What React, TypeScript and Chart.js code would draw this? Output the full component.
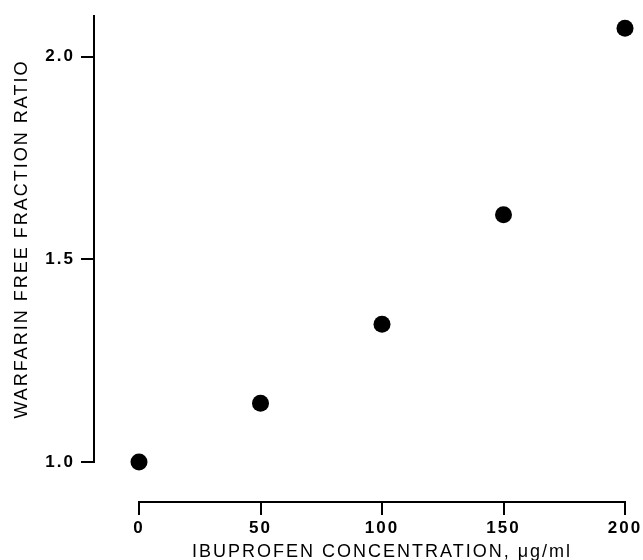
import React, { useEffect, useRef } from "react";
import { Chart, registerables } from "chart.js";

Chart.register(...registerables);

// ---- data ----
const concentrations = [0, 50, 100, 150, 200];
const freeFractionRatios = [1.0, 1.145, 1.34, 1.61, 2.07];
const xTickValues = [0, 50, 100, 150, 200];
const xTickLabels = ["0", "50", "100", "150", "200"];
const yTickValues = [1.0, 1.5, 2.0];
const yTickLabels = ["1.0", "1.5", "2.0"];
const xTitle = "IBUPROFEN CONCENTRATION, \u03bcg/ml";
const yTitle = "WARFARIN FREE FRACTION RATIO";

const FONT = "'Liberation Sans', Arial, Helvetica, sans-serif";
const INK = "#000000";

const spacingPlugin = {
  id: "letterSpacing",
  beforeDraw(chart: any) {
    (chart.ctx as any).letterSpacing = "2px";
  },
};

export default function App() {
  const ref = useRef<HTMLCanvasElement | null>(null);

  useEffect(() => {
    if (!ref.current) return;
    const gapScale = (axis: "x" | "y", size: number) => ({
      type: "linear" as const,
      axis,
      position: axis === "x" ? ("bottom" as const) : ("left" as const),
      weight: 0,
      display: true,
      grid: { display: false },
      border: { display: false },
      ticks: { display: false },
      title: { display: false },
      afterFit: (s: any) => {
        if (axis === "x") s.height = size;
        else s.width = size;
      },
    });

    const chart = new Chart(ref.current, {
      type: "scatter",
      data: {
        datasets: [
          {
            data: concentrations.map((x, i) => ({ x, y: freeFractionRatios[i] })),
            backgroundColor: INK,
            borderColor: INK,
            borderWidth: 0,
            pointRadius: 8.5,
            pointHoverRadius: 8.5,
            clip: false as any,
            xAxisID: "x",
            yAxisID: "y",
          },
        ],
      },
      options: {
        responsive: false,
        animation: false,
        events: [],
        layout: { padding: { left: 0, right: 18, top: 13, bottom: 0 } },
        plugins: { legend: { display: false }, tooltip: { enabled: false } },
        scales: {
          x: {
            type: "linear",
            position: "bottom",
            weight: 1,
            min: 0,
            max: 200,
            afterBuildTicks: (s: any) => {
              s.ticks = xTickValues.map((v) => ({ value: v }));
            },
            afterFit: (s: any) => {
              s.height = 58;
            },
            grid: {
              display: true,
              drawOnChartArea: false,
              drawTicks: true,
              tickLength: 13,
              lineWidth: 2,
              color: INK,
            },
            border: { display: true, width: 2, color: INK },
            ticks: {
              color: INK,
              font: { family: FONT, size: 17, weight: "bold" },
              padding: 3,
              maxRotation: 0,
              autoSkip: false,
              callback: (v: any) => xTickLabels[xTickValues.indexOf(Number(v))] ?? "",
            },
            title: {
              display: true,
              text: xTitle,
              align: "center",
              color: INK,
              font: { family: FONT, size: 18, lineHeight: 1 },
              padding: { top: 0, bottom: -1 },
            },
          },
          y: {
            type: "linear",
            position: "left",
            weight: 1,
            min: 1.0,
            max: 2.1,
            afterBuildTicks: (s: any) => {
              s.ticks = yTickValues.map((v) => ({ value: v }));
            },
            afterFit: (s: any) => {
              s.width = 94;
            },
            grid: {
              display: true,
              drawOnChartArea: false,
              drawTicks: true,
              tickLength: 13,
              lineWidth: 2,
              color: INK,
            },
            border: { display: true, width: 2, color: INK },
            ticks: {
              color: INK,
              font: { family: FONT, size: 17, weight: "bold" },
              padding: 6,
              autoSkip: false,
              callback: (v: any) => {
                const i = yTickValues.findIndex((t) => Math.abs(t - Number(v)) < 1e-9);
                return i >= 0 ? yTickLabels[i] : "";
              },
            },
            title: {
              display: true,
              text: yTitle,
              color: INK,
              font: { family: FONT, size: 18, lineHeight: 1 },
              padding: { top: 13, bottom: 0 },
            },
          },
          xGap: gapScale("x", 40) as any,
          yGap: gapScale("y", 45) as any,
        },
      },
      plugins: [spacingPlugin],
    } as any);

    return () => chart.destroy();
  }, []);

  return (
    <div style={{ position: "absolute", left: 0, top: 0, width: 643, height: 560, background: "#fff" }}>
      <canvas ref={ref} width={643} height={560} style={{ display: "block", width: 643, height: 560 }} />
    </div>
  );
}
